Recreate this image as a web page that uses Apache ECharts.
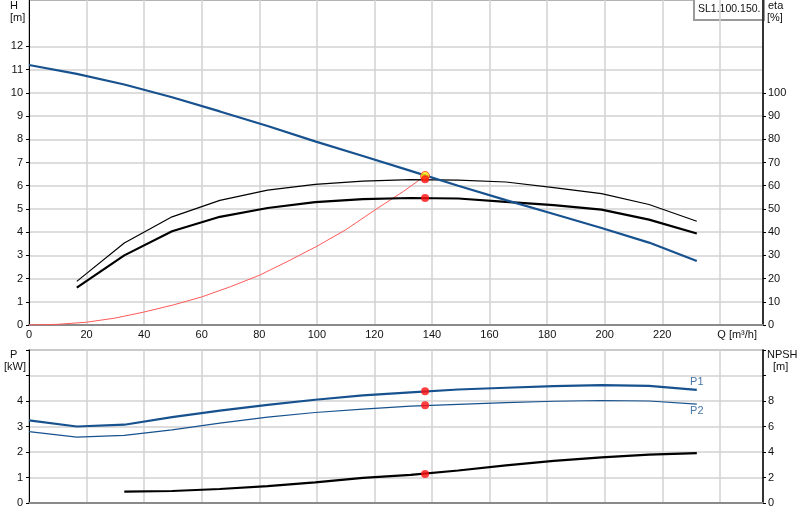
<!DOCTYPE html>
<html>
<head>
<meta charset="utf-8">
<script src="https://cdn.jsdelivr.net/npm/echarts@6/dist/echarts.min.js"></script>
<style>
html,body{margin:0;padding:0;background:#fff;}
#c{width:800px;height:520px;}
</style>
</head>
<body>
<div id="c"></div>
<script>
// ---- data ----
const Q      = [0, 16.6, 33.1, 49.7, 66.3, 82.9, 99.4, 116, 132.6, 149.1, 165.7, 182.3, 198.9, 215.4, 232];
const H      = [11.2, 10.82, 10.36, 9.81, 9.2, 8.57, 7.91, 7.28, 6.64, 6.0, 5.38, 4.78, 4.18, 3.55, 2.76];
const etaHyd = [null, 18.8, 35.3, 46.6, 53.7, 58.1, 60.6, 62.0, 62.6, 62.4, 61.6, 59.2, 56.6, 51.9, 44.7];
const etaTot = [null, 16.1, 30.0, 40.4, 46.6, 50.4, 52.9, 54.2, 54.7, 54.5, 53.0, 51.6, 49.7, 45.4, 39.4];
const P1     = [3.24, 3.0, 3.07, 3.37, 3.62, 3.85, 4.05, 4.22, 4.34, 4.45, 4.52, 4.58, 4.62, 4.59, 4.44];
const P2     = [2.80, 2.58, 2.65, 2.87, 3.13, 3.37, 3.55, 3.68, 3.80, 3.87, 3.94, 3.99, 4.02, 4.00, 3.88];
const NPSH   = [null, null, 0.89, 0.94, 1.1, 1.32, 1.62, 1.97, 2.2, 2.55, 2.95, 3.3, 3.58, 3.8, 3.91];

const sysQ   = [0, 10, 20, 30, 40, 50, 60, 70, 80, 90, 100, 110, 120, 130, 137.6];
const sysH   = [0, 0.03, 0.12, 0.3, 0.56, 0.86, 1.21, 1.65, 2.14, 2.75, 3.39, 4.1, 4.94, 5.75, 6.42];

const dutyQ = 137.6, dutyH = 6.28, dutyReq = 6.42, dutyEta = 54.7, dutyP1 = 4.38, dutyP2 = 3.83, dutyNPSH = 2.28;

const xTicks   = [0, 20, 40, 60, 80, 100, 120, 140, 160, 180, 200, 220];
const hTicks   = [0, 1, 2, 3, 4, 5, 6, 7, 8, 9, 10, 11, 12];
const etaTicks = [0, 10, 20, 30, 40, 50, 60, 70, 80, 90, 100];
const modelName = 'SL1.100.150.';

// ---- helpers ----
const pairs = (xs, ys) => xs.map((x, i) => [x, ys[i]]).filter(p => p[1] !== null);
const BLUE = '#17528f';
const FONT = 'Arial, "Liberation Sans", sans-serif';
const GRID_LINE = {show: true, lineStyle: {color: '#d2d2d2', width: 1.5}};
const lbl = (maxShown, extra) => Object.assign({
  color: '#111', fontSize: 11, fontFamily: FONT,
  formatter: v => (v > maxShown ? '' : String(v))
}, extra || {});

const chart = echarts.init(document.getElementById('c'), null, {renderer: 'canvas'});
const option = {
  animation: false,
  backgroundColor: '#fff',
  textStyle: {fontFamily: FONT},
  grid: [
    {left: 29, right: 37, top: 0, height: 325, show: true, borderColor: '#9a9a9a', borderWidth: 1.5},
    {left: 29, right: 37, top: 350, height: 153, show: true, borderColor: '#9a9a9a', borderWidth: 1.5}
  ],
  xAxis: [
    {type: 'value', gridIndex: 0, min: 0, max: 255, interval: 20,
     axisLine: {lineStyle: {color: '#8a8a8a', width: 2}}, axisTick: {show: false},
     axisLabel: {color: '#111', fontSize: 11, fontFamily: FONT, margin: 4,
       formatter: v => (xTicks.indexOf(v) >= 0 ? String(v) : '')},
     splitLine: GRID_LINE,
     name: 'Q [m³/h]', nameLocation: 'end', nameGap: -6,
     nameTextStyle: {color: '#111', fontSize: 11, fontFamily: FONT, align: 'right', verticalAlign: 'top', padding: [4, 0, 0, 0]}},
    {type: 'value', gridIndex: 1, min: 0, max: 255, interval: 20,
     axisLine: {lineStyle: {color: '#8a8a8a', width: 2}}, axisTick: {show: false},
     axisLabel: {show: false}, splitLine: GRID_LINE}
  ],
  yAxis: [
    {type: 'value', gridIndex: 0, min: 0, max: 14, interval: 1, position: 'left',
     axisLine: {show: true, lineStyle: {color: '#000', width: 1}},
     axisTick: {show: true, length: 3, lineStyle: {color: '#000'}, customValues: hTicks},
     axisLabel: lbl(12, {margin: 6}), splitLine: GRID_LINE},
    {type: 'value', gridIndex: 0, min: 0, max: 140, interval: 10, position: 'right',
     axisLine: {show: true, lineStyle: {color: '#000', width: 1.5}},
     axisTick: {show: true, length: 3, lineStyle: {color: '#000'}, customValues: etaTicks},
     axisLabel: lbl(100, {margin: 5}), splitLine: {show: false}},
    {type: 'value', gridIndex: 1, min: 0, max: 6, interval: 1, position: 'left',
     axisLine: {show: true, lineStyle: {color: '#000', width: 1}},
     axisTick: {show: true, length: 3, lineStyle: {color: '#000'}},
     axisLabel: lbl(4, {margin: 6}), splitLine: GRID_LINE},
    {type: 'value', gridIndex: 1, min: 0, max: 12, interval: 2, position: 'right',
     axisLine: {show: true, lineStyle: {color: '#000', width: 1.5}},
     axisTick: {show: true, length: 3, lineStyle: {color: '#000'}},
     axisLabel: lbl(8, {margin: 5}), splitLine: {show: false}}
  ],
  series: [
    {name: 'system', type: 'line', xAxisIndex: 0, yAxisIndex: 0, data: pairs(sysQ, sysH),
     showSymbol: false, lineStyle: {color: '#ff5a5a', width: 1}, z: 2},
    {name: 'eta hyd', type: 'line', xAxisIndex: 0, yAxisIndex: 1, data: pairs(Q, etaHyd),
     showSymbol: false, lineStyle: {color: '#000', width: 1.2}, z: 3},
    {name: 'eta tot', type: 'line', xAxisIndex: 0, yAxisIndex: 1, data: pairs(Q, etaTot),
     showSymbol: false, lineStyle: {color: '#000', width: 2.2}, z: 3},
    {name: 'H', type: 'line', xAxisIndex: 0, yAxisIndex: 0, data: pairs(Q, H),
     showSymbol: false, lineStyle: {color: BLUE, width: 2.2}, z: 4},
    {name: 'req', type: 'scatter', xAxisIndex: 0, yAxisIndex: 0, data: [[dutyQ, dutyReq]],
     symbolSize: 9, itemStyle: {color: '#ffe600', borderColor: '#ff3030', borderWidth: 1}, z: 5},
    {name: 'duty top', type: 'scatter', xAxisIndex: 0, yAxisIndex: 0, data: [[dutyQ, dutyH]],
     symbolSize: 8, itemStyle: {color: '#ff1010'}, z: 6},
    {name: 'duty eta', type: 'scatter', xAxisIndex: 0, yAxisIndex: 1, data: [[dutyQ, dutyEta]],
     symbolSize: 8, itemStyle: {color: '#ff1010'}, z: 6},

    {name: 'P1', type: 'line', xAxisIndex: 1, yAxisIndex: 2, data: pairs(Q, P1),
     showSymbol: false, lineStyle: {color: BLUE, width: 2.2}, z: 4},
    {name: 'P2', type: 'line', xAxisIndex: 1, yAxisIndex: 2, data: pairs(Q, P2),
     showSymbol: false, lineStyle: {color: BLUE, width: 1.2}, z: 4},
    {name: 'NPSH', type: 'line', xAxisIndex: 1, yAxisIndex: 3, data: pairs(Q, NPSH),
     showSymbol: false, lineStyle: {color: '#000', width: 2.2}, z: 4},
    {name: 'duty bottom', type: 'scatter', xAxisIndex: 1, yAxisIndex: 2,
     data: [[dutyQ, dutyP1], [dutyQ, dutyP2]], symbolSize: 8, itemStyle: {color: '#ff1010'}, z: 6},
    {name: 'duty npsh', type: 'scatter', xAxisIndex: 1, yAxisIndex: 3,
     data: [[dutyQ, dutyNPSH]], symbolSize: 8, itemStyle: {color: '#ff1010'}, z: 6},
    {name: 'labels', type: 'scatter', xAxisIndex: 1, yAxisIndex: 2, symbolSize: 1,
     itemStyle: {color: 'rgba(0,0,0,0)'}, z: 7, silent: true,
     data: [
       {value: [Q[Q.length - 1], P1[P1.length - 1]],
        label: {show: true, formatter: 'P1', position: 'top', distance: 2, color: BLUE, fontSize: 11, fontFamily: FONT}},
       {value: [Q[Q.length - 1], P2[P2.length - 1]],
        label: {show: true, formatter: 'P2', position: 'bottom', distance: 1, color: BLUE, fontSize: 11, fontFamily: FONT}}
     ]}
  ],
  graphic: [
    {type: 'text', left: 10, top: 0, style: {text: 'H', fontSize: 11, fontFamily: FONT, fill: '#111'}},
    {type: 'text', left: 10, top: 12, style: {text: '[m]', fontSize: 11, fontFamily: FONT, fill: '#111'}},
    {type: 'text', left: 768, top: 0, style: {text: 'eta', fontSize: 11, fontFamily: FONT, fill: '#111'}},
    {type: 'text', left: 767, top: 12, style: {text: '[%]', fontSize: 11, fontFamily: FONT, fill: '#111'}},
    {type: 'text', left: 10, top: 349, style: {text: 'P', fontSize: 11, fontFamily: FONT, fill: '#111'}},
    {type: 'text', left: 4, top: 361, style: {text: '[kW]', fontSize: 11, fontFamily: FONT, fill: '#111'}},
    {type: 'text', left: 767, top: 349, style: {text: 'NPSH', fontSize: 11, fontFamily: FONT, fill: '#111'}},
    {type: 'text', left: 773, top: 361, style: {text: '[m]', fontSize: 11, fontFamily: FONT, fill: '#111'}},
    {type: 'group', left: 693, top: -2, z: 100, children: [
      {type: 'rect', shape: {x: 0, y: 0, width: 70, height: 21},
       style: {fill: '#fff', stroke: '#9a9a9a', lineWidth: 2}},
      {type: 'text', x: 4, y: 5, style: {text: modelName, fontSize: 10.5, fontFamily: FONT, fill: '#111'}}
    ]}
  ]
};
chart.setOption(option);
</script>
</body>
</html>
